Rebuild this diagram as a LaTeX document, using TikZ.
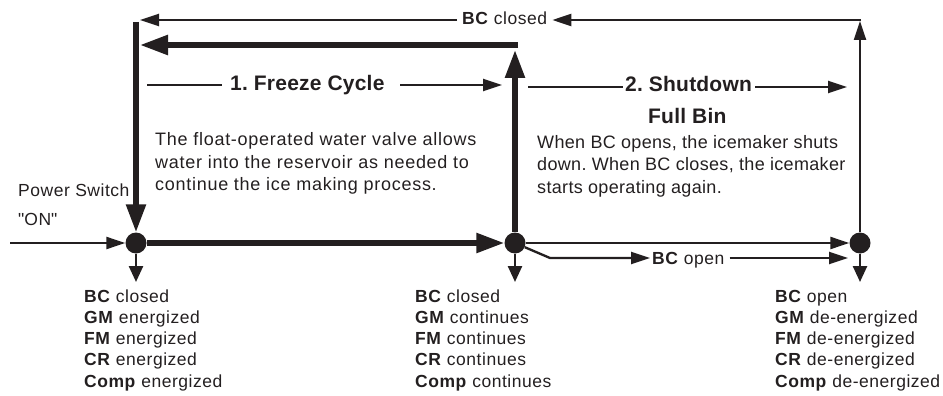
\documentclass[tikz,border=0pt]{standalone}
\usepackage{fontspec}
\setmainfont{Liberation Sans}[LetterSpace=3]
\newfontfamily\parafont{Liberation Sans}[LetterSpace=4]
\newfontfamily\parbfont{Liberation Sans}[LetterSpace=1.8]
\newfontfamily\headfont{Liberation Sans}[LetterSpace=1]
\usetikzlibrary{arrows.meta}
\definecolor{ink}{HTML}{231F20}
\newcommand\mylines[1]{\begin{tabular}[t]{@{}l@{}}#1\end{tabular}}
\frenchspacing
\begin{document}
\begin{tikzpicture}[x=1pt,y=-1pt,
  every node/.style={inner sep=0pt, text=ink},
  dot/.style={circle, fill=ink, minimum size=21pt, inner sep=0pt},
  thickln/.style={line width=5.5pt, draw=ink},
  thinln/.style={line width=2.3pt, draw=ink},
  downln/.style={line width=2.5pt, draw=ink},
  bigtip/.style={-{Triangle[length=28pt,width=19pt]}},
  smalltip/.style={-{Triangle[length=19pt,width=12pt]}},
  downtip/.style={-{Triangle[length=16pt,width=14pt]}},
  body/.style={font=\frenchspacing\fontsize{17.5}{21.3}\selectfont, anchor=base west},
  para/.style={font=\frenchspacing\parafont\fontsize{18}{23}\selectfont, anchor=base west},
  parb/.style={font=\frenchspacing\parbfont\fontsize{18}{22.7}\selectfont, anchor=base west},
  head/.style={font=\frenchspacing\headfont\bfseries\fontsize{21}{24}\selectfont, anchor=base west}]
\useasboundingbox (0,0) rectangle (943,396);

% junction dots
\node[dot] (A) at (136,243) {};
\node[dot] (B) at (515,243) {};
\node[dot] (C) at (860,243) {};

% coordinates for free ends
\coordinate (in) at (10,243);
\coordinate (ltop) at (136,22);
\coordinate (ltipthin) at (140,20);
\coordinate (ltipthick) at (140,45);
\coordinate (mstart) at (518,45);
\coordinate (mtip) at (515,50);
\coordinate (rtip) at (860,21);
\coordinate (rtop) at (861,20);
\coordinate (brk) at (550,258);
\coordinate (boend) at (848,258);
\coordinate (da) at (136,282);
\coordinate (db) at (515,282);
\coordinate (dc) at (860,282);
\coordinate (f1) at (147,85);
\coordinate (f2) at (222,85);
\coordinate (f3) at (400,85);
\coordinate (f4) at (502,85);
\coordinate (s1) at (528,87);
\coordinate (s2) at (623,87);
\coordinate (s3) at (755,87);
\coordinate (s4) at (847,87);

% texts
\node[body] (tc) at (462,25) {\textbf{BC} closed};
\node[body] (bo) at (652,264) {\textbf{BC} open};
\node[head] (fc) at (230,91) {1.\ Freeze Cycle};
\node[head] (sd) at (625,92) {2.\ Shutdown};
\node[head] (fb) at (648,124) {Full Bin};
\node[para] (p1) at (155,145) {\mylines{The float-operated water valve allows\\ water into the reservoir as needed to\\ continue the ice making process.}};
\node[parb] (p2) at (537,148) {\mylines{When BC opens,\ the icemaker shuts\\ down.\ When BC closes,\ the icemaker\\ starts operating again.}};
\node[body, font=\frenchspacing\fontsize{17.5}{29}\selectfont] (ps) at (18,196) {\mylines{Power Switch\\ \textquotedbl ON\textquotedbl}};
\node[body] (la) at (84,302) {\mylines{\textbf{BC} closed\\ \textbf{GM} energized\\ \textbf{FM} energized\\ \textbf{CR} energized\\ \textbf{Comp} energized}};
\node[body] (lb) at (415,302) {\mylines{\textbf{BC} closed\\ \textbf{GM} continues\\ \textbf{FM} continues\\ \textbf{CR} continues\\ \textbf{Comp} continues}};
\node[body] (lc) at (775,302) {\mylines{\textbf{BC} open\\ \textbf{GM} de-energized\\ \textbf{FM} de-energized\\ \textbf{CR} de-energized\\ \textbf{Comp} de-energized}};

% thick connectors
\draw[thickln, bigtip] (ltop) -- (A);
\draw[thickln, bigtip] (A) -- (B);
\draw[thickln, bigtip] (B) -- (mtip);
\draw[thickln, bigtip] (mstart) -- (ltipthick);

% thin connectors
\draw[thinln, smalltip] (in) -- (A);
\draw[thinln, smalltip] (B) -- (C);
\draw[thinln, smalltip] (C) -- (rtip);
\draw[thinln, smalltip] (rtop) -- ([xshift=5pt]tc.east |- rtop);
\draw[thinln, smalltip] ([xshift=-5pt]tc.west |- rtop) -- (ltipthin);
\draw[thinln, smalltip] (B) -- (brk) -- ([xshift=-2pt]bo.west |- brk);
\draw[thinln, smalltip] ([xshift=5pt]bo.east |- brk) -- (boend);
\draw[thinln] (f1) -- (f2);
\draw[thinln, smalltip] (f3) -- (f4);
\draw[thinln] (s1) -- (s2);
\draw[thinln, smalltip] (s3) -- (s4);

% down arrows
\draw[downln, downtip] (A) -- (da);
\draw[downln, downtip] (B) -- (db);
\draw[downln, downtip] (C) -- (dc);
\end{tikzpicture}
\end{document}
